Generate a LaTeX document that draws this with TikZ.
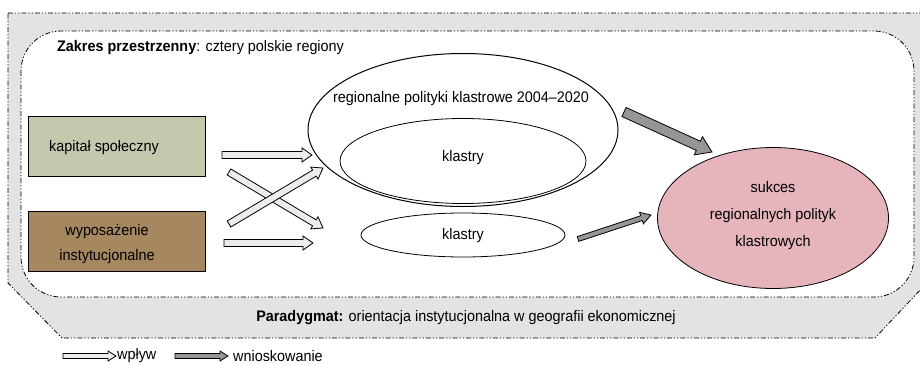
\documentclass[tikz,border=0pt]{standalone}
\usepackage{fontspec}
\setmainfont{Liberation Sans}[FakeStretch=0.94]
\usetikzlibrary{calc,shapes.geometric}

\definecolor{bandgray}{RGB}{227,227,227}
\definecolor{olivebox}{RGB}{197,200,173}
\definecolor{brownbox}{RGB}{165,135,96}
\definecolor{pinkfill}{RGB}{230,181,187}
\definecolor{lightarrow}{RGB}{236,236,236}
\definecolor{darkarrow}{RGB}{150,150,150}

% block arrow: #1 style, #2 start, #3 tip, #4 shaft half width, #5 head half width, #6 head length
\newcommand{\blockarrow}[6]{%
  \coordinate (ba-base) at ($(#3)!#6!(#2)$);
  \draw[#1] ($(#2)!#4!90:(#3)$) -- ($(ba-base)!#4!-90:(#2)$) -- ($(ba-base)!#5!-90:(#2)$)
    -- (#3) -- ($(ba-base)!#5!90:(#2)$) -- ($(ba-base)!#4!90:(#2)$) -- ($(#2)!#4!-90:(#3)$) -- cycle;}

\tikzset{
  ddot/.style={line width=0.8pt, dash pattern=on 5pt off 2pt on 1.2pt off 2pt on 1.2pt off 2pt},
  factor/.style={draw, line width=0.8pt, minimum width=177pt, minimum height=60pt, inner sep=0pt},
  oval/.style={ellipse, draw, line width=1pt, inner sep=0pt},
  txt/.style={font=\fontsize{15.3}{18}\selectfont, inner sep=0pt},
  wplyw/.style={draw, line width=0.8pt, fill=lightarrow, line join=miter},
  wniosek/.style={draw, line width=0.8pt, fill=darkarrow, line join=miter}
}

\begin{document}
\begin{tikzpicture}[x=1pt, y=-1pt]
\useasboundingbox (0,0) rectangle (920,364);

% outer band: paradigm
\draw[ddot, fill=bandgray] (8,13) -- (922,13) -- (922,288) -- (875,338) -- (62,338) -- (8,283) -- cycle;
% inner area: spatial scope
\draw[ddot, fill=white, rounded corners=40pt] (21,31) rectangle (914,297);

\node[txt, anchor=west] (zakres) at (57,48) {\textbf{Zakres przestrzenny}: cztery polskie regiony};
\node[txt] (parad) at (466,318) {\textbf{Paradygmat:} orientacja instytucjonalna w geografii ekonomicznej};

% factors
\node[factor, fill=olivebox] (kap) at (116.5,146) {};
\node[txt] at (104,148) {kapitał społeczny};
\node[factor, fill=brownbox] (wyp) at (116.5,241) {};
\node[txt, align=center] at (107,244) {wyposażenie\\[7pt]instytucjonalne};

% policies and clusters
\node[oval, minimum width=310pt, minimum height=153pt] (pol) at (463,130) {};
\node[txt] (polt) at (461,99) {regionalne polityki klastrowe 2004–2020};
\node[oval, minimum width=246pt, minimum height=85pt, line width=0.8pt] (kl1) at (463,161) {};
\node[txt] at (463,158) {klastry};
\node[oval, minimum width=204pt, minimum height=44pt, line width=0.8pt] (kl2) at (463,235) {};
\node[txt] at (463,236) {klastry};

% outcome
\node[oval, fill=pinkfill, minimum width=231pt, minimum height=141pt, line width=0.8pt] (suk) at (773,218) {};
\node[txt, align=center] at (773,216) {sukces\\[9pt]regionalnych polityk\\[9pt]klastrowych};

% influence arrows
\coordinate (w1s) at (222,155); \coordinate (w1e) at (312,155);
\coordinate (w2s) at (224,243); \coordinate (w2e) at (313,243);
\coordinate (w3s) at (229,172); \coordinate (w3e) at (323,228);
\coordinate (w4s) at (229,224); \coordinate (w4e) at (323,168);
\blockarrow{wplyw}{w3s}{w3e}{3.5pt}{7pt}{10pt}
\blockarrow{wplyw}{w4s}{w4e}{3.5pt}{7pt}{10pt}
\blockarrow{wplyw}{w1s}{w1e}{3.5pt}{7pt}{10pt}
\blockarrow{wplyw}{w2s}{w2e}{3.5pt}{7pt}{10pt}

% inference arrows
\coordinate (n1s) at (624,112); \coordinate (n1e) at (712,152);
\coordinate (n2s) at (578,239); \coordinate (n2e) at (651,215);
\blockarrow{wniosek}{n1s}{n1e}{5pt}{10pt}{15pt}
\blockarrow{wniosek}{n2s}{n2e}{2.5pt}{6pt}{10pt}

% legend
\coordinate (l1s) at (63,356); \coordinate (l1e) at (116,356);
\coordinate (l2s) at (175,356); \coordinate (l2e) at (228,356);
\blockarrow{wplyw}{l1s}{l1e}{2.5pt}{5pt}{8pt}
\blockarrow{wniosek}{l2s}{l2e}{2.5pt}{5pt}{8pt}
\node[txt, anchor=west] (lw) at (117,356) {wpływ};
\node[txt, anchor=west] (ln) at (233,356) {wnioskowanie};
\end{tikzpicture}
\end{document}
